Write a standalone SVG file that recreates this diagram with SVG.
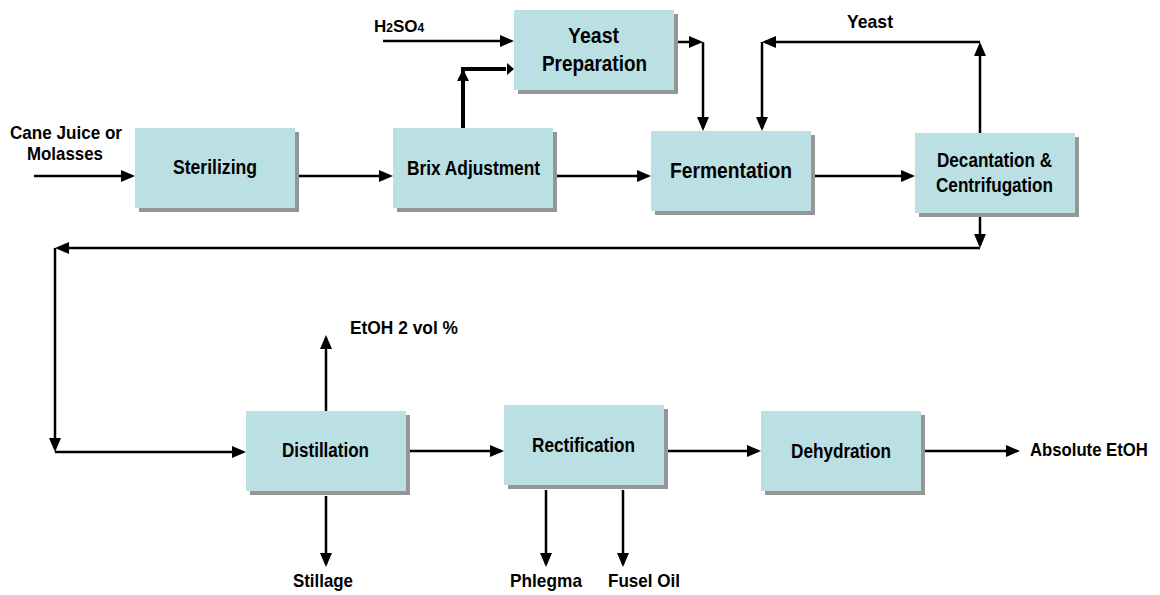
<svg xmlns="http://www.w3.org/2000/svg" width="1160" height="595" viewBox="0 0 1160 595">
<style>
.box{fill:#BBE0E3}
.sh{fill:#969696}
.t{font-family:"Liberation Sans",Arial,sans-serif;font-weight:bold;fill:#000}
.b{font-size:20px}
.l{font-size:22px}
.o{font-size:19px}
.c{fill:none;stroke:#000;stroke-width:2.5;marker-end:url(#ah)}
.k{fill:none;stroke:#000;stroke-width:4}
</style>
<defs>
<marker id="ah" markerUnits="userSpaceOnUse" markerWidth="14" markerHeight="12" refX="11" refY="6" orient="auto"><path d="M0,0L14,6L0,12z" fill="#000"/></marker>
</defs>
<rect width="1160" height="595" fill="#fff"/>
<g id="connectors">
<path class="c" d="M34,176H132"/>
<path class="c" d="M299,176H390"/>
<path class="c" d="M557,176H648"/>
<path class="c" d="M815,176H912"/>
<path class="c" d="M383,41H511"/>
<path class="k" d="M463,128V69"/>
<path class="k" d="M461,69H506"/>
<path fill="#000" d="M507,63L514,69L507,75z"/>
<path fill="#000" d="M463,69L469,81L457,81z"/>
<path class="c" d="M677,42H700"/>
<path class="c" d="M703,42V128"/>
<path class="c" d="M980,133V45"/>
<path class="c" d="M980,42H765"/>
<path class="c" d="M762,42V128"/>
<path class="c" d="M980,217V245"/>
<path class="c" d="M980,248H58"/>
<path class="c" d="M55,248V449"/>
<path class="c" d="M55,452H243"/>
<path class="c" d="M326,411V338"/>
<path class="c" d="M326,496V564"/>
<path class="c" d="M410,451H501"/>
<path class="c" d="M546,490V564"/>
<path class="c" d="M623,490V564"/>
<path class="c" d="M668,451H758"/>
<path class="c" d="M925,451H1017"/>
</g>
<g id="sterilizing">
<rect class="sh" x="139" y="132" width="160" height="80"/>
<rect class="box" x="135" y="128" width="160" height="80"/>
<text class="t b" x="173" y="174" textLength="84" lengthAdjust="spacingAndGlyphs">Sterilizing</text>
</g>
<g id="brix">
<rect class="sh" x="397" y="132" width="160" height="80"/>
<rect class="box" x="393" y="128" width="160" height="80"/>
<text class="t b" x="407" y="175" textLength="133" lengthAdjust="spacingAndGlyphs">Brix Adjustment</text>
</g>
<g id="yeast-prep">
<rect class="sh" x="518" y="14" width="160" height="80"/>
<rect class="box" x="514" y="10" width="160" height="80"/>
<text class="t l" x="568" y="43" textLength="51" lengthAdjust="spacingAndGlyphs">Yeast</text>
<text class="t l" x="542" y="71" textLength="105" lengthAdjust="spacingAndGlyphs">Preparation</text>
</g>
<g id="fermentation">
<rect class="sh" x="655" y="135" width="160" height="80"/>
<rect class="box" x="651" y="131" width="160" height="80"/>
<text class="t l" x="670" y="178" textLength="122" lengthAdjust="spacingAndGlyphs">Fermentation</text>
</g>
<g id="decantation">
<rect class="sh" x="919" y="137" width="160" height="80"/>
<rect class="box" x="915" y="133" width="160" height="80"/>
<text class="t b" x="937" y="167" textLength="115" lengthAdjust="spacingAndGlyphs">Decantation &amp;</text>
<text class="t b" x="936" y="192" textLength="117" lengthAdjust="spacingAndGlyphs">Centrifugation</text>
</g>
<g id="distillation">
<rect class="sh" x="250" y="415" width="160" height="80"/>
<rect class="box" x="246" y="411" width="160" height="80"/>
<text class="t b" x="282" y="457" textLength="87" lengthAdjust="spacingAndGlyphs">Distillation</text>
</g>
<g id="rectification">
<rect class="sh" x="508" y="409" width="160" height="80"/>
<rect class="box" x="504" y="405" width="160" height="80"/>
<text class="t b" x="532" y="452" textLength="103" lengthAdjust="spacingAndGlyphs">Rectification</text>
</g>
<g id="dehydration">
<rect class="sh" x="765" y="415" width="160" height="80"/>
<rect class="box" x="761" y="411" width="160" height="80"/>
<text class="t b" x="791" y="458" textLength="100" lengthAdjust="spacingAndGlyphs">Dehydration</text>
</g>
<g id="labels">
<text class="t o" x="10" y="139" textLength="112" lengthAdjust="spacingAndGlyphs">Cane Juice or</text>
<text class="t o" x="27" y="160" textLength="76" lengthAdjust="spacingAndGlyphs">Molasses</text>
<text class="t" font-size="17" x="374" y="32">H<tspan font-size="12">2</tspan>SO<tspan font-size="12">4</tspan></text>
<text class="t o" x="847" y="28" textLength="46" lengthAdjust="spacingAndGlyphs">Yeast</text>
<text class="t o" x="350" y="334" textLength="108" lengthAdjust="spacingAndGlyphs">EtOH 2 vol %</text>
<text class="t o" x="293" y="587" textLength="60" lengthAdjust="spacingAndGlyphs">Stillage</text>
<text class="t o" x="510" y="587" textLength="72" lengthAdjust="spacingAndGlyphs">Phlegma</text>
<text class="t o" x="608" y="587" textLength="72" lengthAdjust="spacingAndGlyphs">Fusel Oil</text>
<text class="t o" transform="translate(1030,456) scale(0.88,1)">Absolute EtOH</text>
</g>
</svg>
